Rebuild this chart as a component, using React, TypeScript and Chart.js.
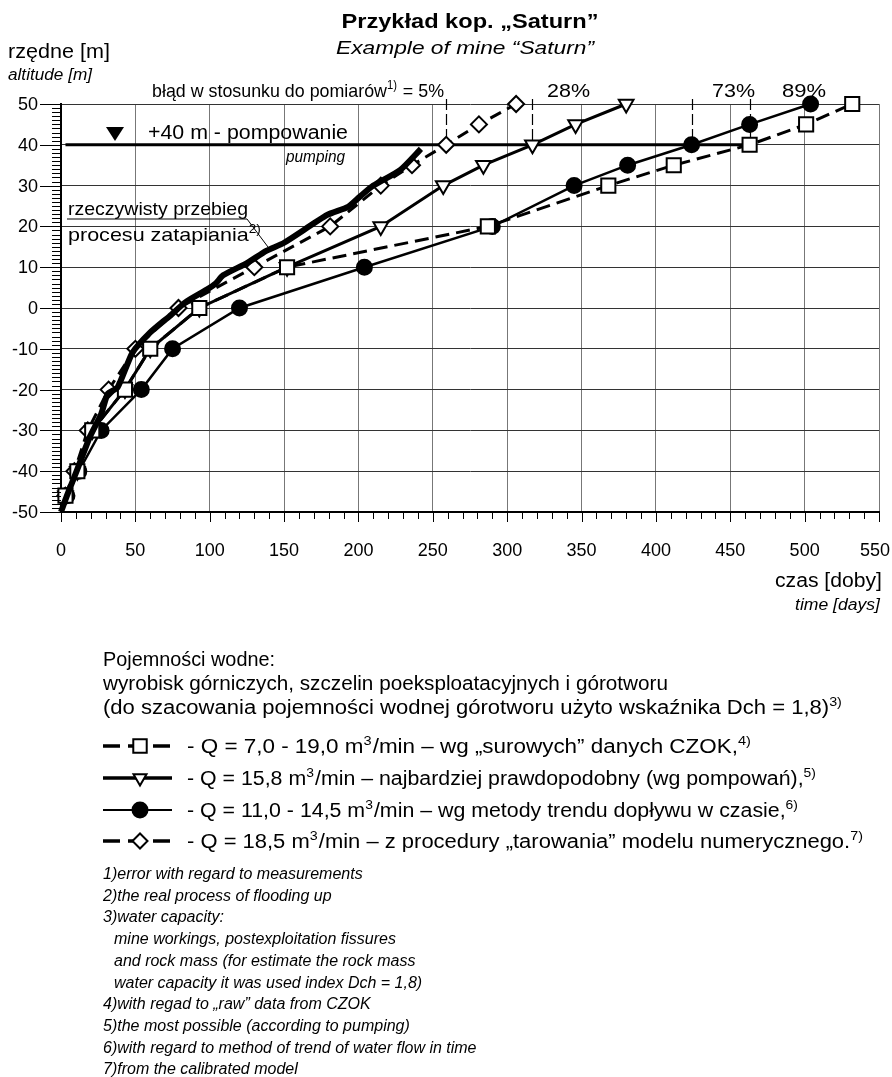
import React, { useEffect, useRef } from "react";
import { Chart, registerables } from "chart.js";
Chart.register(...registerables);

const FONT = '"Liberation Sans", Arial, Helvetica, sans-serif';

// altitude levels [m] at which each forecast curve is marked
const levels = [-46, -40, -30, -20, -10, 0, 10, 20, 30, 35, 40, 45, 50];
// time [days] of reaching each level
const czokDays = [3, 11, 21, 43, 60, 93, 152, 287, 368, 412, 463, 501, 532];
const pumpDays = [3, 11, 21, 43, 60, 93, 152, 215, 257, 284, 317, 346, 380];
const trendDays = [4, 12, 27, 54, 75, 120, 204, 290, 345, 381, 424, 463, 504];
const modelDays = [3, 9, 18, 32, 50, 79, 130, 181, 215, 236, 259, 281, 306];

// real flooding process
const realDays = [0, 4, 10.5, 19.5, 27, 31.5, 38, 48, 60, 73, 84, 98, 104, 109, 125, 138, 150, 179, 193, 201, 210, 228, 242];
const realAlt = [-50, -46, -40, -31.5, -26, -21, -19.5, -11, -6, -2, 1.5, 4.5, 6, 8, 11, 14, 16, 22.8, 24.8, 27.3, 30, 33.8, 39];

const xTickLabels = ["0", "50", "100", "150", "200", "250", "300", "350", "400", "450", "500", "550"];
const yTickLabels = ["-50", "-40", "-30", "-20", "-10", "0", "10", "20", "30", "40", "50"];

const pumpingLevel = 40;
const pumpingStartDay = 3;
const errorLabels = ["28%", "73%", "89%"];

const footnotes = [
  "1)error with regard to measurements",
  "2)the real process of flooding up",
  "3)water capacity:",
  "  mine workings, postexploitation fissures",
  "  and rock mass (for estimate the rock mass",
  "  water capacity it was used index Dch = 1,8)",
  "4)with regad to \u201eraw\u201d data from CZOK",
  "5)the most possible (according to pumping)",
  "6)with regard to method of trend of water flow in time",
  "7)from the calibrated model",
];

type Part = [string, boolean];
const legendRows: Part[][] = [
  [["- Q = 7,0 - 19,0 m", false], ["3", true], ["/min \u2013 wg \u201esurowych\u201d danych CZOK,", false], ["4)", true]],
  [["- Q = 15,8 m", false], ["3", true], ["/min \u2013 najbardziej prawdopodobny (wg pompowa\u0144),", false], ["5)", true]],
  [["- Q = 11,0 - 14,5 m", false], ["3", true], ["/min \u2013 wg metody trendu dop\u0142ywu w czasie,", false], ["6)", true]],
  [["- Q = 18,5 m", false], ["3", true], ["/min \u2013 z procedury \u201etarowania\u201d modelu numerycznego.", false], ["7)", true]],
];
const legendWidths = [565, 630, 612, 677];

function pts(days: number[], alts: number[]) {
  return days.map((d, i) => ({ x: d, y: alts[i] }));
}

function fontOf(size: number, italic: boolean, bold: boolean) {
  return `${italic ? "italic " : ""}${bold ? "bold " : ""}${size}px ${FONT}`;
}

// draws rich text (with superscripts) optionally fitted to a width
function fit(
  ctx: CanvasRenderingContext2D,
  parts: Part[] | string,
  x: number,
  y: number,
  size: number,
  opts: { italic?: boolean; bold?: boolean; width?: number; align?: "left" | "center" | "right" } = {}
) {
  const ps: Part[] = typeof parts === "string" ? [[parts, false]] : parts;
  const italic = !!opts.italic;
  const bold = !!opts.bold;
  let natural = 0;
  const widths: number[] = [];
  for (const [s, sup] of ps) {
    ctx.font = fontOf(sup ? Math.round(size * 0.65) : size, italic, bold);
    const w = ctx.measureText(s).width + (sup ? 1 : 0);
    widths.push(w);
    natural += w;
  }
  const target = opts.width ?? natural;
  const sc = target / natural;
  let x0 = x;
  if (opts.align === "center") x0 = x - target / 2;
  if (opts.align === "right") x0 = x - target;
  ctx.save();
  ctx.translate(x0, y);
  ctx.scale(sc, 1);
  ctx.textAlign = "left";
  ctx.textBaseline = "alphabetic";
  let cx = 0;
  ps.forEach(([s, sup], i) => {
    ctx.font = fontOf(sup ? Math.round(size * 0.65) : size, italic, bold);
    ctx.fillText(s, cx, sup ? -size * 0.4 : 0);
    cx += widths[i];
  });
  ctx.restore();
}

function text(ctx: CanvasRenderingContext2D, s: string, x: number, y: number, font: string, align: CanvasTextAlign = "left", base: CanvasTextBaseline = "alphabetic") {
  ctx.font = font;
  ctx.textAlign = align;
  ctx.textBaseline = base;
  ctx.fillText(s, x, y);
}

function marker(ctx: CanvasRenderingContext2D, kind: string, x: number, y: number, r: number) {
  ctx.save();
  ctx.beginPath();
  if (kind === "rect") {
    const s = r * Math.SQRT1_2;
    ctx.rect(x - s, y - s, 2 * s, 2 * s);
  } else if (kind === "tri") {
    ctx.moveTo(x - r * 0.866, y - r * 0.5);
    ctx.lineTo(x + r * 0.866, y - r * 0.5);
    ctx.lineTo(x, y + r);
    ctx.closePath();
  } else if (kind === "circle") {
    ctx.arc(x, y, r, 0, Math.PI * 2);
  } else {
    ctx.moveTo(x - r, y);
    ctx.lineTo(x, y - r);
    ctx.lineTo(x + r, y);
    ctx.lineTo(x, y + r);
    ctx.closePath();
  }
  ctx.fillStyle = kind === "circle" ? "#000" : "#fff";
  ctx.fill();
  ctx.lineWidth = 2;
  ctx.strokeStyle = "#000";
  ctx.stroke();
  ctx.restore();
}

const overlay = {
  id: "overlay",
  beforeDraw(chart: any) {
    const ctx = chart.ctx as CanvasRenderingContext2D;
    ctx.save();
    ctx.fillStyle = "#fff";
    ctx.fillRect(0, 0, chart.width, chart.height);
    ctx.restore();
  },
  beforeDatasetsDraw(chart: any) {
    const ctx = chart.ctx as CanvasRenderingContext2D;
    const xs = chart.scales.x;
    const ys = chart.scales.y;
    ctx.save();
    // error verticals at +40 m crossing
    const i40 = levels.indexOf(pumpingLevel);
    const y40 = ys.getPixelForValue(pumpingLevel);
    ctx.strokeStyle = "#000";
    ctx.lineWidth = 1.2;
    ctx.setLineDash([11, 4]);
    for (const d of [modelDays[i40], pumpDays[i40], trendDays[i40], czokDays[i40]]) {
      const px = Math.round(xs.getPixelForValue(d)) + 0.5;
      ctx.beginPath();
      ctx.moveTo(px, 99);
      ctx.lineTo(px, y40);
      ctx.stroke();
    }
    ctx.setLineDash([]);
    // pumping line
    ctx.lineWidth = 3;
    ctx.beginPath();
    ctx.moveTo(xs.getPixelForValue(pumpingStartDay), y40);
    ctx.lineTo(xs.getPixelForValue(czokDays[i40]), y40);
    ctx.stroke();
    ctx.restore();
  },
  afterDraw(chart: any) {
    const ctx = chart.ctx as CanvasRenderingContext2D;
    const xs = chart.scales.x;
    const ys = chart.scales.y;
    const ca = chart.chartArea;
    ctx.save();
    ctx.fillStyle = "#000";
    ctx.strokeStyle = "#000";
    // y-axis ruler ticks
    ctx.lineWidth = 1;
    for (let v = -50; v <= 50; v++) {
      const py = Math.round(ys.getPixelForValue(v)) + 0.5;
      ctx.beginPath();
      ctx.moveTo(v % 10 === 0 ? ca.left - 21 : ca.left - 9, py);
      ctx.lineTo(ca.left, py);
      ctx.stroke();
    }
    // x-axis ticks
    for (let v = 0; v <= 550; v += 10) {
      const px = Math.round(xs.getPixelForValue(v)) + 0.5;
      ctx.beginPath();
      ctx.moveTo(px, ca.bottom);
      ctx.lineTo(px, ca.bottom + (v % 50 === 0 ? 10 : 7));
      ctx.stroke();
    }
    // tick labels
    yTickLabels.forEach((l) => {
      text(ctx, l, 38, ys.getPixelForValue(Number(l)) + 1, `18px ${FONT}`, "right", "middle");
    });
    xTickLabels.forEach((l) => {
      const px = Math.min(xs.getPixelForValue(Number(l)), chart.width - 17);
      text(ctx, l, px, 551, `18px ${FONT}`, "center", "middle");
    });

    // titles
    fit(ctx, "Przyk\u0142ad kop. \u201eSaturn\u201d", 470, 28, 21, { bold: true, width: 257, align: "center" });
    fit(ctx, "Example of mine \u201cSaturn\u201d", 465, 54, 19, { italic: true, width: 258, align: "center" });
    fit(ctx, "rz\u0119dne [m]", 8, 58, 20, { width: 102 });
    fit(ctx, "altitude [m]", 8, 80, 16, { italic: true, width: 84 });
    fit(ctx, "czas [doby]", 882, 587, 20, { width: 107, align: "right" });
    fit(ctx, "time [days]", 880, 610, 16, { italic: true, width: 85, align: "right" });

    // error label
    fit(ctx, [["b\u0142\u0105d w stosunku do pomiar\u00f3w", false], ["1)", true], [" = 5%", false]], 152, 97, 19, { width: 292 });
    fit(ctx, errorLabels[0], 547, 97, 19, { width: 43 });
    fit(ctx, errorLabels[1], 712, 97, 19, { width: 43 });
    fit(ctx, errorLabels[2], 782, 97, 19, { width: 44 });

    // pumping annotation
    ctx.beginPath();
    ctx.moveTo(106, 127);
    ctx.lineTo(124, 127);
    ctx.lineTo(115, 141);
    ctx.closePath();
    ctx.fill();
    fit(ctx, "+40 m - pompowanie", 148, 139, 20, { width: 200 });
    fit(ctx, "pumping", 345, 162, 16, { italic: true, width: 59, align: "right" });

    // real process annotation
    fit(ctx, "rzeczywisty przebieg", 68, 215, 19, { width: 180 });
    fit(ctx, [["procesu zatapiania", false], ["2)", true]], 68, 241, 19, { width: 194 });
    ctx.lineWidth = 1;
    ctx.beginPath();
    ctx.moveTo(67, 219);
    ctx.lineTo(247, 219);
    ctx.lineTo(268, 247);
    ctx.stroke();

    // capacity description
    fit(ctx, "Pojemno\u015bci wodne:", 103, 666, 20, { width: 172 });
    fit(ctx, "wyrobisk g\u00f3rniczych, szczelin poeksploatacyjnych i g\u00f3rotworu", 103, 690, 20, { width: 565 });
    fit(ctx, [["(do szacowania pojemno\u015bci wodnej g\u00f3rotworu u\u017cyto wska\u017anika Dch = 1,8)", false], ["3)", true]], 103, 714, 20, { width: 740 });

    // legend
    const rowsY = [746, 778, 810, 841];
    const kinds = ["rect", "tri", "circle", "diamond"];
    rowsY.forEach((yy, i) => {
      ctx.save();
      ctx.strokeStyle = "#000";
      if (i === 0 || i === 3) {
        ctx.lineWidth = 3.5;
        ctx.setLineDash([17, 8]);
      } else {
        ctx.lineWidth = i === 1 ? 3.5 : 2;
      }
      ctx.beginPath();
      ctx.moveTo(103, yy);
      ctx.lineTo(172, yy);
      ctx.stroke();
      ctx.restore();
      marker(ctx, kinds[i], 140, yy, i === 0 ? 9.5 : 7.5);
      fit(ctx, legendRows[i], 187, yy + 7, 20, { width: legendWidths[i] });
    });

    // footnotes
    footnotes.forEach((f, i) => {
      const indent = f.startsWith("  ");
      text(ctx, f.trim(), indent ? 114 : 103, 879 + i * 21.7, `italic 16px ${FONT}`);
    });
    ctx.restore();
  },
};

export default function App() {
  const ref = useRef<HTMLCanvasElement>(null);
  useEffect(() => {
    if (!ref.current) return;
    const base = { showLine: true, clip: false as any, pointBorderWidth: 2, borderColor: "#000", pointBorderColor: "#000" };
    const chart = new Chart(ref.current, {
      type: "line",
      data: {
        datasets: [
          {
            ...base,
            label: "rzeczywisty przebieg",
            data: pts(realDays, realAlt),
            borderWidth: 6,
            pointRadius: 0,
            tension: 0.2,
          },
          {
            ...base,
            label: "Q = 7,0 - 19,0",
            data: pts(czokDays, levels),
            borderWidth: 3,
            borderDash: [14, 7],
            pointStyle: "rect",
            pointRadius: 10,
            pointBackgroundColor: "#fff",
          },
          {
            ...base,
            label: "Q = 15,8",
            data: pts(pumpDays, levels),
            borderWidth: 3,
            pointStyle: "triangle",
            rotation: 180,
            pointRadius: 8.5,
            pointBackgroundColor: "#fff",
          },
          {
            ...base,
            label: "Q = 11,0 - 14,5",
            data: pts(trendDays, levels),
            borderWidth: 2.5,
            pointStyle: "circle",
            pointRadius: 7.5,
            pointBackgroundColor: "#000",
          },
          {
            ...base,
            label: "Q = 18,5",
            data: pts(modelDays, levels),
            borderWidth: 3,
            borderDash: [12, 7],
            pointStyle: "rectRot",
            pointRadius: 8,
            pointBackgroundColor: "#fff",
          },
        ] as any,
      },
      options: {
        animation: false,
        responsive: false,
        devicePixelRatio: 1,
        layout: { padding: { left: 0, right: 13, top: 104, bottom: 555 } },
        plugins: { legend: { display: false }, tooltip: { enabled: false }, title: { display: false } },
        scales: {
          x: {
            type: "linear",
            min: 0,
            max: 550,
            ticks: { stepSize: 50, display: false },
            grid: { color: "#777", lineWidth: 1, drawTicks: false },
            border: { display: true, color: "#000", width: 2 },
            afterFit: (s: any) => { s.height = 10; },
          },
          y: {
            type: "linear",
            min: -50,
            max: 50,
            ticks: { stepSize: 10, display: false },
            grid: { color: "#333", lineWidth: 1, drawTicks: false },
            border: { display: true, color: "#000", width: 2 },
            afterFit: (s: any) => { s.width = 61; },
          },
        },
      } as any,
      plugins: [overlay],
    });
    return () => chart.destroy();
  }, []);
  return (
    <div style={{ position: "absolute", left: 0, top: 0, width: 892, height: 1077 }}>
      <canvas ref={ref} width={892} height={1077} style={{ display: "block" }} />
    </div>
  );
}
